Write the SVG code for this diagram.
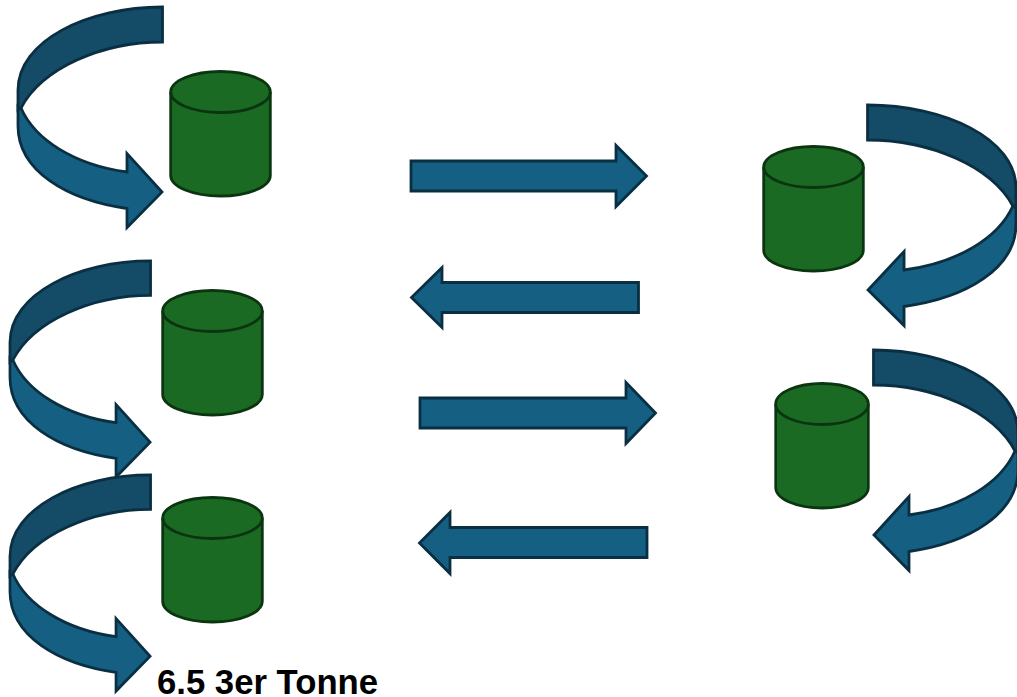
<svg xmlns="http://www.w3.org/2000/svg" width="1017" height="697" viewBox="0 0 1017 697">
<style>
.lt{fill:#156082;stroke:#0a2f42;stroke-width:2.8;stroke-linejoin:miter}
.dk{fill:#144b67;stroke:#0a2f42;stroke-width:2.8;stroke-linejoin:miter}
.cy{fill:#1b6a23;stroke:#0b3510;stroke-width:2.8}
.cy2{fill:none;stroke:#0b3510;stroke-width:2.8}
text{font-family:"Liberation Sans",Arial,sans-serif;font-weight:700;font-size:34.7px;fill:#000}
</style>
<defs>
<g id="curved">
<path class="lt" d="M4,102 C18,134 58,159 110,166 L110,147.500 L145,186 L110,221.500 L110,202.500 C50,194 1,165 1,120 L1,100 Z"/>
<path class="dk" d="M145.500,1 C70,1 1,35 1,84 L1,104 L4,102 C25,62 85,36 145.500,36 Z"/>
</g>
<g id="can">
<path class="cy" d="M0.700,21 A49.800,20.500 0 0 1 100.300,21 L100.300,104.500 A49.800,20.500 0 0 1 0.700,104.500 Z"/>
<path class="cy2" d="M0.700,21 A49.800,20.500 0 0 0 100.300,21"/>
</g>
</defs>
<g id="loop-l1"><use href="#curved" transform="translate(17,6)"/></g>
<g id="loop-l2"><use href="#curved" transform="translate(9,260) scale(0.973,0.98)"/></g>
<g id="loop-l3"><use href="#curved" transform="translate(9,474) scale(0.973,0.98)"/></g>
<g id="loop-r1"><use href="#curved" transform="translate(1017,104) scale(-1.027,1)"/></g>
<g id="loop-r2"><use href="#curved" transform="translate(1019,349) scale(-1,1)"/></g>
<g id="can-l1"><use href="#can" transform="translate(170,71)"/></g>
<g id="can-l2"><use href="#can" transform="translate(162,290)"/></g>
<g id="can-l3"><use href="#can" transform="translate(162,497)"/></g>
<g id="can-r1"><use href="#can" transform="translate(763,146)"/></g>
<g id="can-r2"><use href="#can" transform="translate(775,383) scale(0.931,1)"/></g>
<g id="connectors">
<path class="lt" d="M411,161 H616 V145.500 L646.500,176 L616,206.500 V191 H411 Z"/>
<path class="lt" d="M638.500,282.500 H442 V267.500 L411.500,297.500 L442,327.500 V312.500 H638.500 Z"/>
<path class="lt" d="M420,398 H626 V382.500 L655.500,413 L626,443.500 V428 H420 Z"/>
<path class="lt" d="M647,527.500 H450 V512.500 L419.500,543 L450,573.500 V557.500 H647 Z"/>
</g>
<text x="157" y="694">6.5 3er Tonne</text>
</svg>
